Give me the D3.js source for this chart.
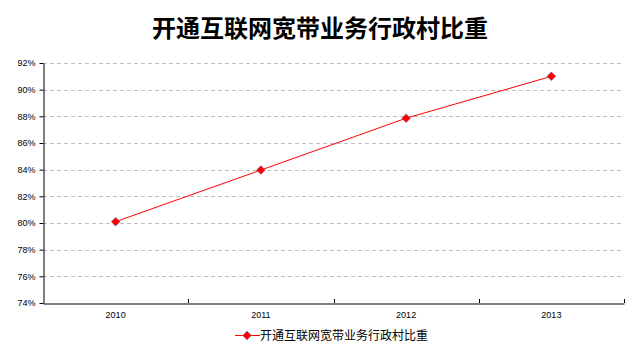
<!DOCTYPE html>
<html><head><meta charset="utf-8">
<script src="https://cdn.jsdelivr.net/npm/d3@7"></script>
<style>body{margin:0;background:#fff;} svg{display:block;}</style>
</head><body>
<svg id="c" width="640" height="352"></svg>
<script>
const title = "开通互联网宽带业务行政村比重";
const seriesName = "开通互联网宽带业务行政村比重";
const categories = ["2010", "2011", "2012", "2013"];
const values = [80.1, 83.97, 87.86, 91.0];
const yTicks = [74, 76, 78, 80, 82, 84, 86, 88, 90, 92];

const svg = d3.select("#c");
const L = 43, R = 624, T = 63, B = 303;
const x = d3.scaleBand().domain(categories).range([L, R]);
const y = d3.scaleLinear().domain([74, 92]).range([B, T]);
const font = "'Liberation Sans', 'Noto Sans CJK SC', sans-serif";

svg.append("text").attr("x", 320).attr("y", 37).attr("text-anchor", "middle")
  .style("font-family", "'Noto Sans CJK SC'").style("font-size", "24px").style("font-weight", "bold")
  .attr("fill", "#000").text(title);

// grid
svg.append("g").selectAll("line").data(yTicks.filter(d => d > 74)).join("line")
  .attr("x1", L).attr("x2", R).attr("y1", d => Math.round(y(d)) + 0.5).attr("y2", d => Math.round(y(d)) + 0.5)
  .attr("stroke", "#c0c0c0").attr("stroke-dasharray", "4,3");

// y axis
const ya = svg.append("g").attr("transform", `translate(${L + 0.5},0)`)
  .call(d3.axisLeft(y).tickValues(yTicks).tickFormat(d => d + "%").tickSize(4).tickSizeOuter(0));
ya.select(".domain").attr("stroke", "#000");
ya.selectAll(".tick line").attr("stroke", "#000");
ya.selectAll(".tick text").style("font-family", font).style("font-size", "9px").attr("fill", "#000").attr("x", -8);

// x axis
const xa = svg.append("g").attr("transform", `translate(0,${B + 0.5})`)
  .call(d3.axisBottom(x).tickSize(0).tickSizeOuter(0));
xa.select(".domain").attr("stroke", "#000");
xa.selectAll(".tick text").style("font-family", font).style("font-size", "9px").attr("fill", "#000").attr("dy", "0.71em").attr("y", 8);
// tick marks between categories
svg.append("g").selectAll("line").data(categories).join("line")
  .attr("x1", d => Math.round(x(d) + x.bandwidth()) + 0.5).attr("x2", d => Math.round(x(d) + x.bandwidth()) + 0.5)
  .attr("y1", B - 4).attr("y2", B).attr("stroke", "#000");

const cx = d => x(d) + x.bandwidth() / 2;
const line = d3.line().x((d, i) => cx(categories[i])).y(d => y(d));
svg.append("path").datum(values).attr("d", line).attr("fill", "none").attr("stroke", "#ff0000").attr("stroke-width", 1);

const diamond = "M0,-4.5L4.5,0L0,4.5L-4.5,0Z";
svg.append("g").selectAll("path").data(values).join("path")
  .attr("transform", (d, i) => `translate(${cx(categories[i])},${y(d)})`)
  .attr("d", diamond).attr("fill", "#ff0000").attr("stroke", "#6fa0d8").attr("stroke-width", 0.5);

// legend
const lg = svg.append("g");
lg.append("line").attr("x1", 235).attr("x2", 260).attr("y1", 335.5).attr("y2", 335.5).attr("stroke", "#ff0000");
lg.append("path").attr("transform", "translate(247,335.5)").attr("d", diamond).attr("fill", "#ff0000").attr("stroke", "#6fa0d8").attr("stroke-width", 0.5);
lg.append("text").attr("x", 260).attr("y", 340).style("font-family", "'Noto Sans CJK SC'").style("font-size", "12px").attr("fill", "#000").text(seriesName);
</script>
</body></html>
